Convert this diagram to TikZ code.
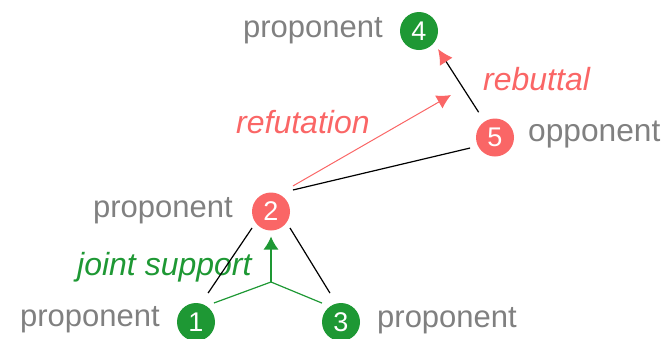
\documentclass[tikz,border=0pt]{standalone}
\usepackage{fontspec}
\setmainfont{Liberation Sans}
\usetikzlibrary{arrows.meta}
\definecolor{pgreen}{RGB}{30,152,52}
\definecolor{pred}{RGB}{250,102,102}
\definecolor{pgray}{RGB}{128,128,128}
\tikzset{
  argnode/.style={circle,minimum size=38pt,inner sep=0pt,outer sep=0pt,text=white,
    font=\fontsize{27}{30}\selectfont},
  gnode/.style={argnode,fill=pgreen},
  rnode/.style={argnode,fill=pred},
  rolelabel/.style={inner sep=0pt,text=pgray,font=\fontsize{31}{36}\selectfont},
  edgelabel/.style={inner sep=0pt,font=\fontsize{32}{38}\selectfont\itshape},
  attack/.style={line width=1.2pt,black},
  tipstyle/.style={-{Latex[length=14pt,width=15pt]}},
}
\begin{document}
\begin{tikzpicture}[x=1pt,y=-1pt]
\useasboundingbox (0,0) rectangle (667,338);
% nodes
\node[gnode] (n4) at (419,31) {4};
\node[rnode] (n5) at (495,137.5) {5};
\node[rnode] (n2) at (271,211.5) {2};
\node[gnode] (n1) at (196,322) {1};
\node[gnode] (n3) at (341,322) {3};
% role labels
\node[rolelabel,anchor=base east] (l4) at (383,37) {proponent};
\node[rolelabel,anchor=base west,font=\fontsize{31.7}{36}\selectfont] (l5) at (528,141.5) {opponent};
\node[rolelabel,anchor=base east] (l2) at (233,217) {proponent};
\node[rolelabel,anchor=base east] (l1) at (160,326.5) {proponent};
\node[rolelabel,anchor=base west] (l3) at (377,327) {proponent};
% edge labels
\node[edgelabel,text=pred,anchor=base west] (lreb) at (483,90) {rebuttal};
\node[edgelabel,text=pred,anchor=base west] (lref) at (236,133) {refutation};
\node[edgelabel,text=pgreen,anchor=base west] (ljs) at (77,275) {joint support};
% coordinates
\coordinate (J) at (271,282);
\coordinate (rt) at (451,95);
% attacks
\draw[attack,shorten <=6.4pt,shorten >=12.8pt] (n2.216) -- (n1.75);
\draw[attack,shorten <=6.5pt,shorten >=12.3pt] (n2.325) -- (n3.104);
\draw[attack,shorten <=15.9pt,shorten >=8.2pt] (n2.70) -- (n5.207);
% rebuttal
\draw[attack,-{Latex[length=15pt,width=15pt,color=pred]},shorten <=11.1pt,shorten >=7.5pt] (n5.123) -- (n4.322);
% refutation
\draw[line width=1pt,pred,tipstyle,shorten <=16.4pt] (n2.66) -- (rt);
% joint support
\draw[line width=1.2pt,pgreen,shorten >=8.4pt] (J) -- (n1.58);
\draw[line width=1.2pt,pgreen,shorten >=8.8pt] (J) -- (n3.125);
\draw[line width=1.2pt,pgreen,-{Latex[length=13pt,width=15pt]},shorten >=6pt] (J) -- (n2.south);
\end{tikzpicture}
\end{document}
